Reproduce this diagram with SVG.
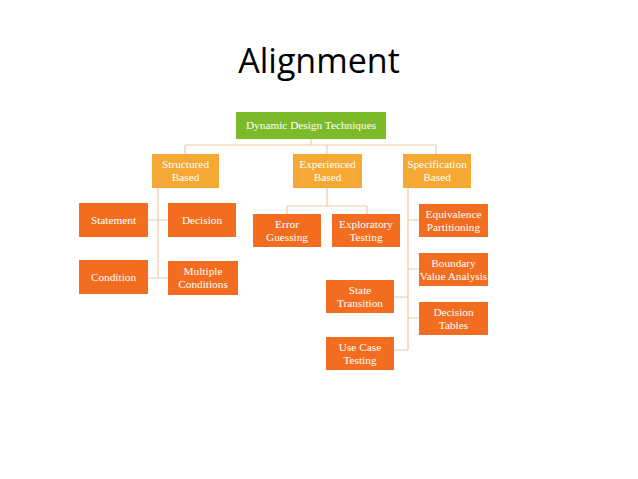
<svg xmlns="http://www.w3.org/2000/svg" width="638" height="479" viewBox="0 0 638 479">
<style>
.t{font-family:"Liberation Serif",serif;font-size:11.3px;fill:#ffffff;text-anchor:middle}
.g{fill:#7cba2a}
.m{fill:#f5a833}
.c{fill:#f26d1f}
.ln{stroke:#f2c9a6;stroke-width:1.2;fill:none}
</style>
<rect width="638" height="479" fill="#ffffff"/>
<text x="319" y="73" font-family="Open Sans, Noto Sans, sans-serif" font-size="34" fill="#000000" text-anchor="middle">Alignment</text>
<g id="connectors" class="ln">
<path d="M311 139V145M185 145H436M185 145V154M327 145V154M436 145V154"/>
<path d="M158 188V278M148 220H168M148 278H168"/>
<path d="M327 188V206M287 206H367M287 206V214M367 206V214"/>
<path d="M408 188V350M408 220H419M408 269H419M408 318H419M394 297H408M394 350H408"/>
</g>
<g id="n-root"><rect class="g" x="236" y="112" width="150" height="27"/><text class="t" x="311" y="129">Dynamic Design Techniques</text></g>
<g id="n-structured"><rect class="m" x="152" y="154" width="67" height="34"/><text class="t" x="185.5" y="168">Structured</text><text class="t" x="185.5" y="181">Based</text></g>
<g id="n-experienced"><rect class="m" x="293" y="154" width="69" height="34"/><text class="t" x="327.5" y="168">Experienced</text><text class="t" x="327.5" y="181">Based</text></g>
<g id="n-specification"><rect class="m" x="403" y="154" width="68" height="34"/><text class="t" x="437" y="168">Specification</text><text class="t" x="437" y="181">Based</text></g>
<g id="n-statement"><rect class="c" x="79" y="203" width="69" height="34"/><text class="t" x="113.5" y="224">Statement</text></g>
<g id="n-decision"><rect class="c" x="168" y="203" width="68" height="34"/><text class="t" x="202" y="224">Decision</text></g>
<g id="n-condition"><rect class="c" x="79" y="260" width="69" height="34"/><text class="t" x="113.5" y="281">Condition</text></g>
<g id="n-multiple"><rect class="c" x="168" y="261" width="70" height="34"/><text class="t" x="203" y="275">Multiple</text><text class="t" x="203" y="288">Conditions</text></g>
<g id="n-error"><rect class="c" x="253" y="214" width="68" height="33"/><text class="t" x="287" y="228">Error</text><text class="t" x="287" y="241">Guessing</text></g>
<g id="n-exploratory"><rect class="c" x="332" y="214" width="68" height="33"/><text class="t" x="366" y="228">Exploratory</text><text class="t" x="366" y="241">Testing</text></g>
<g id="n-equivalence"><rect class="c" x="419" y="204" width="69" height="33"/><text class="t" x="453.5" y="218">Equivalence</text><text class="t" x="453.5" y="231">Partitioning</text></g>
<g id="n-boundary"><rect class="c" x="419" y="253" width="69" height="33"/><text class="t" x="453.5" y="267">Boundary</text><text class="t" x="453.5" y="280">Value Analysis</text></g>
<g id="n-tables"><rect class="c" x="419" y="302" width="69" height="33"/><text class="t" x="453.5" y="316">Decision</text><text class="t" x="453.5" y="329">Tables</text></g>
<g id="n-state"><rect class="c" x="326" y="280" width="68" height="33"/><text class="t" x="360" y="294">State</text><text class="t" x="360" y="307">Transition</text></g>
<g id="n-usecase"><rect class="c" x="326" y="337" width="68" height="33"/><text class="t" x="360" y="351">Use Case</text><text class="t" x="360" y="364">Testing</text></g>
</svg>
